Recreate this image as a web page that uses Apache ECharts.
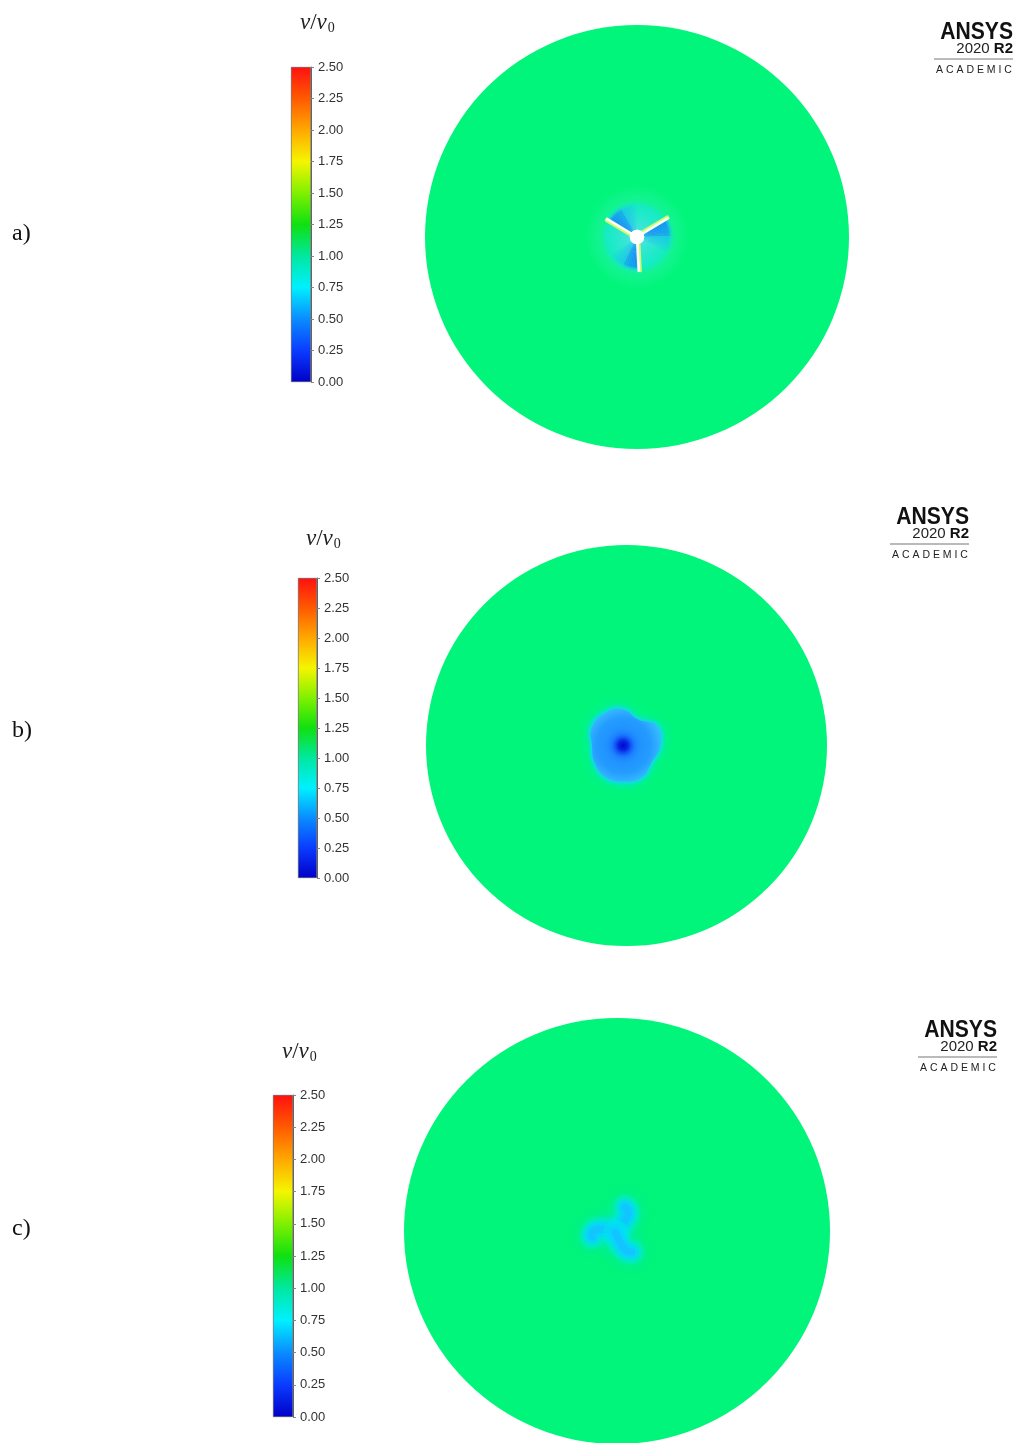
<!DOCTYPE html>
<html><head><meta charset="utf-8">
<script src="https://cdn.jsdelivr.net/npm/echarts@6/dist/echarts.min.js"></script>
<style>html,body{margin:0;padding:0;background:#fff}#chart{width:1015px;height:1443px}</style>
</head><body><div id="chart"></div>
<script>
// ---------- data ----------
const panelLabels = ['a)', 'b)', 'c)'];
const colorbarTitle = 'v/v0';
const tickValues = [0, 0.25, 0.5, 0.75, 1.0, 1.25, 1.5, 1.75, 2.0, 2.25, 2.5];
const colorbarMax = 2.5;
const colorbarStopValues = [0, 0.25, 0.5, 0.75, 1.0, 1.25, 1.5, 1.75, 2.0, 2.25, 2.5];
const colorbarStopColors = ['#0000c8', '#0a3cff', '#0a8cff', '#00f0ff', '#00e8a0', '#10e010', '#80f000', '#f5f500', '#ffa800', '#ff5a00', '#ff1010'];
const freeStreamColor = '#00f57a';
const domainRadius = [1, 1, 1];

// panel a: rotor with three blades
const bladeAnglesA = [149, 31, -87];      // degrees
const bladeLengthsA = [0.165, 0.172, 0.16];
const wakeSpanA = [58, 58, 58];          // degrees behind each blade
const hubRadiusA = 0.034;

// panel b: wake blob outline (polar), centre and core
const blobCenterB = [-0.017, 0.0];
const blobAnglesB = [0, 30, 60, 90, 120, 150, 180, 210, 240, 270, 300, 330];
const blobRadiiB = [0.185, 0.195, 0.15, 0.18, 0.185, 0.18, 0.155, 0.165, 0.18, 0.18, 0.185, 0.165];
const coreRadiusB = 0.04;

// panel c: three curved wake arms
const armsC = [
  [[-0.009, -0.005], [0.038, 0.052], [0.052, 0.089], [0.038, 0.112]],
  [[-0.009, -0.005], [-0.08, 0.009], [-0.112, -0.005], [-0.117, -0.028]],
  [[-0.009, -0.005], [0.014, -0.052], [0.038, -0.089], [0.07, -0.099]]
];

// ---------- layout ----------
const cbGrids = [
  {left: 291, top: 67, width: 20, height: 315},
  {left: 298, top: 578, width: 19, height: 300},
  {left: 273, top: 1095, width: 20, height: 322}
];
const fieldGrids = [
  {left: 425, top: 25, width: 424, height: 424},
  {left: 426, top: 545, width: 401, height: 401},
  {left: 404, top: 1019, width: 426, height: 426}
];
const titlePos = [[300, 10], [306, 526], [282, 1039]];
const labelPos = [[12, 234], [12, 731], [12, 1229]];
const logoPos = [[1013, 22], [969, 507], [997, 1020]];

function rgba(hex, a) {
  const n = parseInt(hex.slice(1), 16);
  return 'rgba(' + ((n >> 16) & 255) + ',' + ((n >> 8) & 255) + ',' + (n & 255) + ',' + a + ')';
}
const D = Math.PI / 180;

const grids = [], xAxes = [], yAxes = [], series = [];
cbGrids.forEach((g, i) => {
  grids.push(Object.assign({containLabel: false}, g));
  xAxes.push({type: 'category', gridIndex: i, data: [colorbarTitle], show: false});
  yAxes.push({
    type: 'value', gridIndex: i, min: 0, max: colorbarMax, interval: tickValues[1] - tickValues[0],
    position: 'right',
    axisLine: {show: true, lineStyle: {color: '#666', width: 1}},
    axisTick: {show: true, length: 3, lineStyle: {color: '#888'}},
    splitLine: {show: false},
    axisLabel: {margin: 7, fontSize: 13, color: '#333', fontFamily: 'Liberation Sans, Arial',
      formatter: v => v.toFixed(2)}
  });
  series.push({
    type: 'bar', xAxisIndex: i, yAxisIndex: i, barWidth: '100%', silent: true,
    data: [colorbarMax],
    itemStyle: {
      borderColor: '#555', borderWidth: 0.6,
      color: new echarts.graphic.LinearGradient(0, 1, 0, 0,
        colorbarStopValues.map((v, k) => ({offset: v / colorbarMax, color: colorbarStopColors[k]})))
    }
  });
});
fieldGrids.forEach((g, j) => {
  const i = j + 3;
  grids.push(g);
  xAxes.push({type: 'value', gridIndex: i, min: -1, max: 1, show: false});
  yAxes.push({type: 'value', gridIndex: i, min: -1, max: 1, show: false});
  series.push({
    type: 'custom', xAxisIndex: i, yAxisIndex: i, silent: true, z: 1,
    data: [[0, 0, domainRadius[j]]],
    renderItem: (p, api) => {
      const c = api.coord([api.value(0), api.value(1)]);
      const r = api.size([api.value(2), api.value(2)])[0];
      return {type: 'circle', shape: {cx: c[0], cy: c[1], r: r}, style: {fill: freeStreamColor}};
    }
  });
});

// panel a: rotor disk tint
const maxBladeA = Math.max.apply(null, bladeLengthsA);
series.push({
  type: 'custom', xAxisIndex: 3, yAxisIndex: 3, silent: true, z: 2,
  data: [[0, 0, maxBladeA]],
  renderItem: (p, api) => {
    const c = api.coord([0, 0]);
    const r = api.size([api.value(2), api.value(2)])[0];
    return {type: 'group', children: [
      {type: 'circle', shape: {cx: c[0], cy: c[1], r: r * 1.45}, style: {
        fill: new echarts.graphic.RadialGradient(c[0], c[1], r * 1.45, [
          {offset: 0, color: 'rgba(80,240,210,0)'}, {offset: 0.65, color: 'rgba(80,240,210,0.3)'},
          {offset: 1, color: 'rgba(80,240,210,0)'}], true)}},
      {type: 'circle', shape: {cx: c[0], cy: c[1], r: r * 1.12}, style: {
        fill: new echarts.graphic.RadialGradient(c[0], c[1], r * 1.12, [
          {offset: 0, color: 'rgba(110,220,255,0.8)'}, {offset: 0.75, color: 'rgba(20,230,230,0.6)'},
          {offset: 1, color: 'rgba(0,245,122,0)'}], true)}}
    ]};
  }
});
// panel a: blue wakes behind each blade
series.push({
  type: 'custom', xAxisIndex: 3, yAxisIndex: 3, silent: true, z: 3,
  data: bladeAnglesA.map((a, k) => [0, 0, a, bladeLengthsA[k], wakeSpanA[k]]),
  renderItem: (p, api) => {
    const c = api.coord([api.value(0), api.value(1)]);
    const ang = api.value(2), len = api.size([api.value(3), api.value(3)])[0], span = api.value(4);
    const N = 14, kids = [];
    for (let s = 0; s < N; s++) {
      const t = s / N;
      const a0 = ang - span * t, a1 = ang - span * (s + 1) / N;
      const alpha = 0.95 * Math.pow(1 - t, 0.8);
      const col = t < 0.5 ? '#1680ff' : '#22acff';
      kids.push({type: 'sector', shape: {cx: c[0], cy: c[1], r0: 0, r: len * 1.02,
        startAngle: -a0 * D, endAngle: -a1 * D + 0.001, clockwise: true},
        style: {fill: new echarts.graphic.RadialGradient(c[0], c[1], len * 1.02, [
          {offset: 0, color: rgba(col, alpha * 0.45)}, {offset: 0.35, color: rgba(col, alpha)},
          {offset: 0.85, color: rgba(col, alpha * 0.9)}, {offset: 1, color: rgba('#20d0ff', 0)}], true)}});
    }
    return {type: 'group', children: kids};
  }
});
// panel a: blades and hub
series.push({
  type: 'custom', xAxisIndex: 3, yAxisIndex: 3, silent: true, z: 4,
  data: bladeAnglesA.map((a, k) => [0, 0, a, bladeLengthsA[k], hubRadiusA]),
  renderItem: (p, api) => {
    const c = api.coord([api.value(0), api.value(1)]);
    const ang = api.value(2) * D, len = api.size([api.value(3), api.value(3)])[0];
    const hr = api.size([api.value(4), api.value(4)])[0];
    const tip = [c[0] + len * Math.cos(ang), c[1] - len * Math.sin(ang)];
    const off = [Math.sin(ang) * -1.6, Math.cos(ang) * -1.6];
    return {type: 'group', children: [
      {type: 'line', shape: {x1: c[0] + off[0], y1: c[1] + off[1], x2: tip[0] + off[0], y2: tip[1] + off[1]},
        style: {stroke: 'rgba(235,255,90,0.85)', lineWidth: 3, lineCap: 'round'}},
      {type: 'line', shape: {x1: c[0], y1: c[1], x2: tip[0], y2: tip[1]},
        style: {stroke: '#fbfff5', lineWidth: 2.6, lineCap: 'round'}},
      {type: 'circle', shape: {cx: c[0], cy: c[1], r: hr}, style: {fill: '#ffffff'}}
    ]};
  }
});

// panel b: blob
series.push({
  type: 'custom', xAxisIndex: 4, yAxisIndex: 4, silent: true, z: 3,
  data: [[blobCenterB[0], blobCenterB[1], coreRadiusB]],
  renderItem: (p, api) => {
    const cx = api.value(0), cy = api.value(1);
    const c = api.coord([cx, cy]);
    const pts = (sc) => blobAnglesB.map((a, k) => api.coord([cx + sc * blobRadiiB[k] * Math.cos(a * D), cy + sc * blobRadiiB[k] * Math.sin(a * D)]));
    const R = api.size([Math.max.apply(null, blobRadiiB), 0])[0];
    const cr = api.size([api.value(2), 0])[0];
    return {type: 'group', children: [
      {type: 'polygon', shape: {points: pts(1.1), smooth: 0.45}, style: {fill: 'rgba(0,232,215,0.55)', shadowBlur: 12, shadowColor: 'rgba(0,232,215,0.9)'}},
      {type: 'polygon', shape: {points: pts(1.0), smooth: 0.45}, style: {
        shadowBlur: 5, shadowColor: '#22c8ff',
        fill: new echarts.graphic.RadialGradient(c[0], c[1], R, [
          {offset: 0, color: '#1470ff'}, {offset: 0.35, color: '#2090ff'},
          {offset: 0.7, color: '#249cff'}, {offset: 1, color: '#38bcff'}], true)}},
      {type: 'circle', shape: {cx: c[0], cy: c[1], r: cr * 2.4}, style: {
        fill: new echarts.graphic.RadialGradient(c[0], c[1], cr * 2.4, [
          {offset: 0, color: 'rgba(0,8,200,1)'}, {offset: 0.25, color: 'rgba(5,30,225,0.9)'},
          {offset: 0.6, color: 'rgba(20,100,255,0.35)'}, {offset: 1, color: 'rgba(32,144,255,0)'}], true)}}
    ]};
  }
});

// panel c: arms
series.push({
  type: 'custom', xAxisIndex: 5, yAxisIndex: 5, silent: true, z: 3,
  data: armsC.map((arm, k) => [k]),
  renderItem: (p, api) => {
    const arm = armsC[api.value(0)];
    const pts = arm.map(q => api.coord(q));
    return {type: 'group', children: [
      {type: 'polyline', shape: {points: pts, smooth: 0.5}, style: {stroke: 'rgba(0,235,225,0.4)', lineWidth: 24, lineCap: 'round', fill: null, shadowBlur: 16, shadowColor: 'rgba(0,230,240,0.8)'}},
      {type: 'polyline', shape: {points: pts, smooth: 0.5}, style: {stroke: 'rgba(10,215,255,0.8)', lineWidth: 14, lineCap: 'round', fill: null, shadowBlur: 10, shadowColor: '#00e0ff'}},
      {type: 'polyline', shape: {points: pts, smooth: 0.5}, style: {stroke: 'rgba(25,190,255,0.6)', lineWidth: 7, lineCap: 'round', fill: null, shadowBlur: 6, shadowColor: '#10c0ff'}}
    ]};
  }
});

// ---------- text ----------
const graphic = [];
titlePos.forEach(pos => {
  graphic.push({type: 'text', x: pos[0], y: pos[1], silent: true, style: {
    text: '{i|v}{n|/}{i|v}{s|0}',
    rich: {
      i: {fontFamily: 'Liberation Serif, DejaVu Serif', fontStyle: 'italic', fontSize: 23, fill: '#222'},
      n: {fontFamily: 'Liberation Serif, DejaVu Serif', fontSize: 23, fill: '#222'},
      s: {fontFamily: 'Liberation Serif, DejaVu Serif', fontSize: 14, fill: '#222', padding: [11, 0, 0, 1]}
    }
  }});
});
labelPos.forEach((pos, k) => {
  graphic.push({type: 'text', x: pos[0], y: pos[1], silent: true, style: {
    text: panelLabels[k], fontFamily: 'Liberation Serif, Times New Roman', fontSize: 24, fill: '#111',
    verticalAlign: 'middle', align: 'left'}});
});
logoPos.forEach(pos => {
  const x = pos[0], y = pos[1];
  graphic.push({type: 'text', x: x, y: y - 2, originX: 0, scaleX: 0.88, silent: true, style: {text: 'ANSYS', align: 'right', verticalAlign: 'top',
    fontFamily: 'Liberation Sans, Arial', fontWeight: 'bold', fontSize: 24, fill: '#111'}});
  graphic.push({type: 'text', x: x, y: y + 19, silent: true, style: {text: '{n|2020 }{b|R2}', align: 'right', verticalAlign: 'top',
    rich: {n: {fontFamily: 'Liberation Sans, Arial', fontSize: 15, fill: '#222'}, b: {fontFamily: 'Liberation Sans, Arial', fontWeight: 'bold', fontSize: 15, fill: '#111'}}}});
  graphic.push({type: 'line', silent: true, shape: {x1: x - 79, y1: y + 37, x2: x, y2: y + 37}, style: {stroke: '#777', lineWidth: 1.2}});
  graphic.push({type: 'text', x: x - 39, y: y + 43, silent: true, style: {text: 'A C A D E M I C', align: 'center', verticalAlign: 'top',
    fontFamily: 'Liberation Sans, Arial', fontSize: 10.5, fill: '#222'}});
});

const chart = echarts.init(document.getElementById('chart'), null, {renderer: 'canvas'});
chart.setOption({
  backgroundColor: '#ffffff',
  animation: false,
  grid: grids, xAxis: xAxes, yAxis: yAxes, series: series, graphic: graphic
});
</script></body></html>
